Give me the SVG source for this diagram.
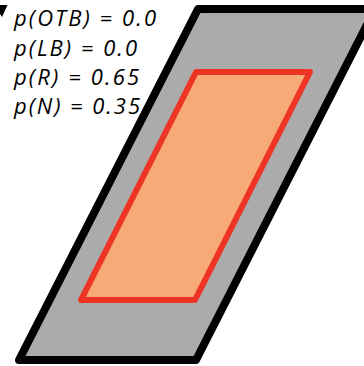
<svg xmlns="http://www.w3.org/2000/svg" width="364" height="366" viewBox="0 0 364 366">
<style>
.outer{fill:#ababab;stroke:#000;stroke-width:8;stroke-linejoin:round}
.inner{fill:#f7aa78;stroke:#ee3424;stroke-width:6;stroke-linejoin:round}
.lbl{font-family:"Open Sans","DejaVu Sans",sans-serif;font-style:italic;font-size:22px;fill:#000}
</style>
<rect width="364" height="366" fill="#fff"/>
<g id="outer-region"><polygon class="outer" points="198,9 375,9 196,360 19,360"/></g>
<g id="inner-region"><polygon class="inner" points="196,72 310,72 195,300 81,300"/></g>
<g id="corner-mark"><polygon points="0,5 7.5,5 2,17 0,14" fill="#000"/></g>
<g id="labels">
<text class="lbl" x="14" y="26" textLength="142" lengthAdjust="spacing">p(OTB) = 0.0</text>
<text class="lbl" x="14" y="55.5" textLength="123" lengthAdjust="spacing">p(LB) = 0.0</text>
<text class="lbl" x="14" y="85" textLength="125" lengthAdjust="spacing">p(R) = 0.65</text>
<text class="lbl" x="14" y="114" textLength="126" lengthAdjust="spacing">p(N) = 0.35</text>
</g>
</svg>
